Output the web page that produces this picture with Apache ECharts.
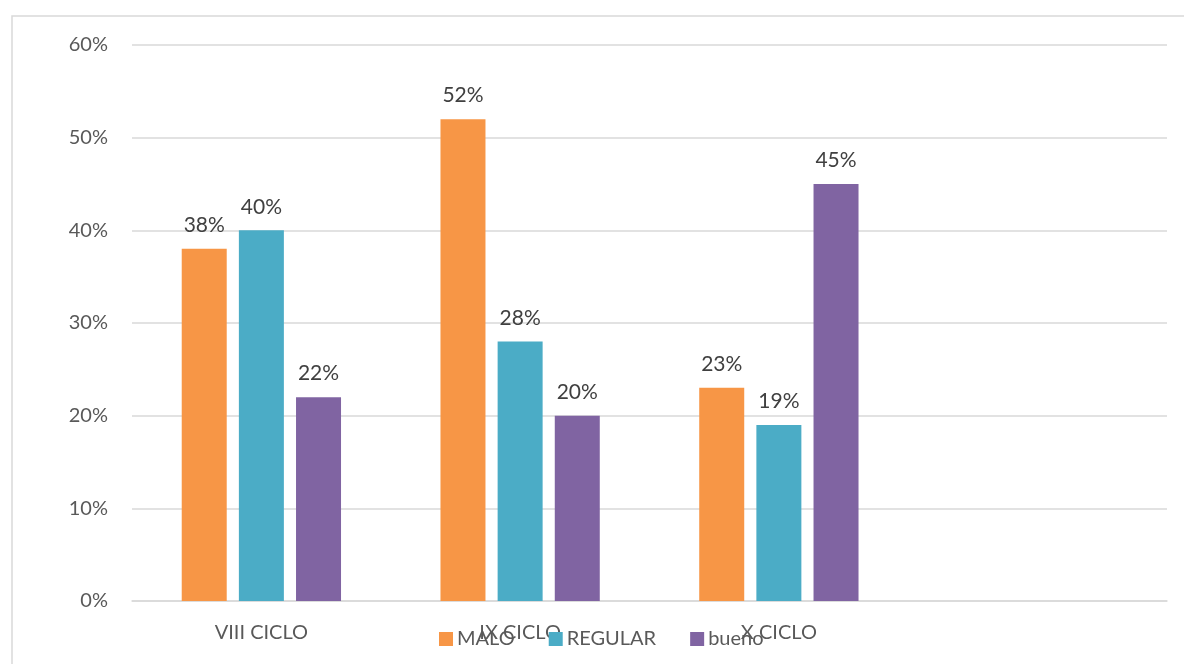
<!DOCTYPE html>
<html>
<head>
<meta charset="utf-8">
<script src="https://cdn.jsdelivr.net/npm/echarts@6/dist/echarts.min.js"></script>
<style>
  html, body { margin: 0; padding: 0; background: #ffffff; }
  #chart { width: 1184px; height: 664px; }
</style>
</head>
<body>
<div id="chart"></div>
<script>
// Cycles (the fourth slot is left empty on purpose)
const categories = ['VIII CICLO', 'IX CICLO', 'X CICLO', ''];
const seriesNames = ['MALO', 'REGULAR', 'bueno'];
const malo = [38, 52, 23, null];
const regular = [40, 28, 19, null];
const bueno = [22, 20, 45, null];
const colors = ['#F79646', '#4BACC6', '#8064A2'];

const FONT = 'Lato, "Open Sans", sans-serif';

const chart = echarts.init(document.getElementById('chart'), null, { renderer: 'canvas' });

function bar(name, data, color) {
  return {
    name: name,
    type: 'bar',
    data: data,
    barWidth: 45,
    barGap: '27%',
    itemStyle: { color: color },
    label: {
      show: true,
      position: 'top',
      distance: 13,
      formatter: '{c}%',
      color: '#404040',
      fontSize: 21,
      fontFamily: FONT
    }
  };
}

chart.setOption({
  backgroundColor: '#ffffff',
  animation: false,
  textStyle: { fontFamily: FONT },
  graphic: [{
    type: 'rect',
    shape: { x: 12, y: 16, width: 1200, height: 700 },
    style: { fill: 'none', stroke: '#d9d9d9', lineWidth: 1.5 },
    silent: true,
    z: -10
  }],
  grid: { left: 132, right: 17, top: 45, bottom: 63, containLabel: false },
  legend: {
    data: seriesNames,
    left: 434,
    top: 624,
    icon: 'rect',
    itemWidth: 14,
    itemHeight: 14,
    itemGap: 34,
    textStyle: { color: '#595959', fontSize: 20, fontFamily: FONT, padding: [0, 0, 0, -1] }
  },
  xAxis: {
    type: 'category',
    data: categories,
    axisTick: { show: false },
    axisLine: { lineStyle: { color: '#d9d9d9', width: 1.5 } },
    axisLabel: { color: '#595959', fontSize: 20, margin: 22, fontFamily: FONT }
  },
  yAxis: {
    type: 'value',
    min: 0,
    max: 60,
    interval: 10,
    axisLine: { show: false },
    axisTick: { show: false },
    splitLine: { lineStyle: { color: '#d9d9d9', width: 1.5 } },
    axisLabel: { formatter: '{value}%', color: '#595959', fontSize: 20, margin: 24, fontFamily: FONT }
  },
  series: [
    bar(seriesNames[0], malo, colors[0]),
    bar(seriesNames[1], regular, colors[1]),
    bar(seriesNames[2], bueno, colors[2])
  ]
});
</script>
</body>
</html>
